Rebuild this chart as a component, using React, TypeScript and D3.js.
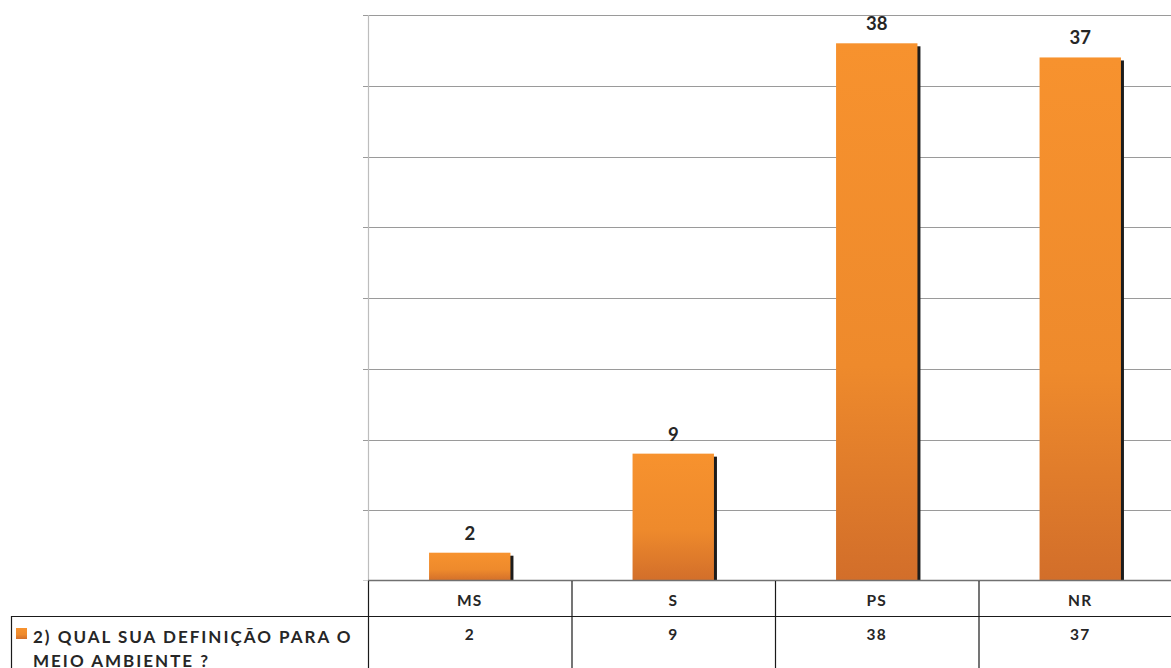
import React from "react";
import * as d3 from "d3";

const categories = ["MS", "S", "PS", "NR"];
const values = [2, 9, 38, 37];
const seriesName = ["2) QUAL SUA DEFINIÇÃO PARA O", "MEIO AMBIENTE ?"];
const yTicks = [0, 5, 10, 15, 20, 25, 30, 35, 40];

const W = 1171;
const H = 668;
const left = 368;
const right = 1182;
const top = 15;
const bottom = 581;
const rowDiv = 616;
const legendLeft = 11;

const FONT = "Lato, 'Open Sans', sans-serif";

export default function App() {
  const x = d3
    .scaleBand<string>()
    .domain(categories)
    .range([left, right])
    .paddingInner(0.6)
    .paddingOuter(0.3);
  const cols = d3.scaleBand<string>().domain(categories).range([left, right]);
  const y = d3.scaleLinear().domain([0, 40]).range([bottom, top]);

  return (
    <svg
      width={W}
      height={H}
      style={{ position: "absolute", left: 0, top: 0, background: "#fff" }}
      fontFamily={FONT}
    >
      <defs>
        <linearGradient id="barFill" x1="0" y1="0" x2="0" y2="1">
          <stop offset="0" stopColor="#F7922E" />
          <stop offset="0.6" stopColor="#EE8A2C" />
          <stop offset="1" stopColor="#D26E2A" />
        </linearGradient>
      </defs>

      {/* gridlines with short ticks left of the axis */}
      {yTicks.slice(1).map((t) => (
        <line
          key={t}
          x1={left - 5}
          x2={W}
          y1={Math.round(y(t)) + 0.5}
          y2={Math.round(y(t)) + 0.5}
          stroke="#9a9a9a"
          strokeWidth={1}
        />
      ))}
      <line x1={left - 5} x2={left} y1={bottom - 0.5} y2={bottom - 0.5} stroke="#cfcfcf" />
      <line x1={left + 0.5} x2={left + 0.5} y1={top} y2={bottom} stroke="#bdbdbd" strokeWidth={1.2} />

      {/* bars with drop shadow */}
      {categories.map((c, i) => {
        const bx = x(c)!;
        const bw = x.bandwidth();
        const by = y(values[i]);
        return (
          <g key={c}>
            <rect x={bx + 3} y={by + 3} width={bw} height={bottom - by - 3} fill="#1c1c1c" />
            <rect x={bx} y={by} width={bw} height={bottom - by} fill="url(#barFill)" />
            <text
              x={bx + bw / 2}
              y={by - 13}
              textAnchor="middle"
              fontSize={18.5}
              fontWeight={700}
              fill="#262626"
            >
              {values[i]}
            </text>
          </g>
        );
      })}

      {/* category axis */}
      <line x1={left} x2={W} y1={bottom - 0.5} y2={bottom - 0.5} stroke="#707070" strokeWidth={1.5} />

      {/* data table */}
      <line x1={legendLeft} x2={W} y1={rowDiv + 0.5} y2={rowDiv + 0.5} stroke="#1a1a1a" strokeWidth={1.2} />
      <line x1={legendLeft + 0.5} x2={legendLeft + 0.5} y1={rowDiv} y2={H} stroke="#1a1a1a" strokeWidth={1.2} />
      {categories.map((c) => (
        <line
          key={c}
          x1={cols(c)! + 0.5}
          x2={cols(c)! + 0.5}
          y1={bottom}
          y2={H}
          stroke="#1a1a1a"
          strokeWidth={1.2}
        />
      ))}
      {categories.map((c, i) => (
        <g key={c}>
          <text
            x={cols(c)! + cols.bandwidth() / 2}
            y={606}
            textAnchor="middle"
            fontSize={15.5}
            fontWeight={700}
            letterSpacing={1.2}
            fill="#262626"
          >
            {c}
          </text>
          <text
            x={cols(c)! + cols.bandwidth() / 2}
            y={640}
            textAnchor="middle"
            fontSize={15.5}
            fontWeight={700}
            letterSpacing={1.2}
            fill="#262626"
          >
            {values[i]}
          </text>
        </g>
      ))}

      {/* series legend cell */}
      <rect x={16} y={628} width={11} height={11} fill="url(#barFill)" />
      {seriesName.map((s, i) => (
        <text
          key={s}
          x={33}
          y={643 + i * 24}
          fontSize={17}
          fontWeight={700}
          letterSpacing={2}
          fill="#262626"
        >
          {s}
        </text>
      ))}
    </svg>
  );
}
